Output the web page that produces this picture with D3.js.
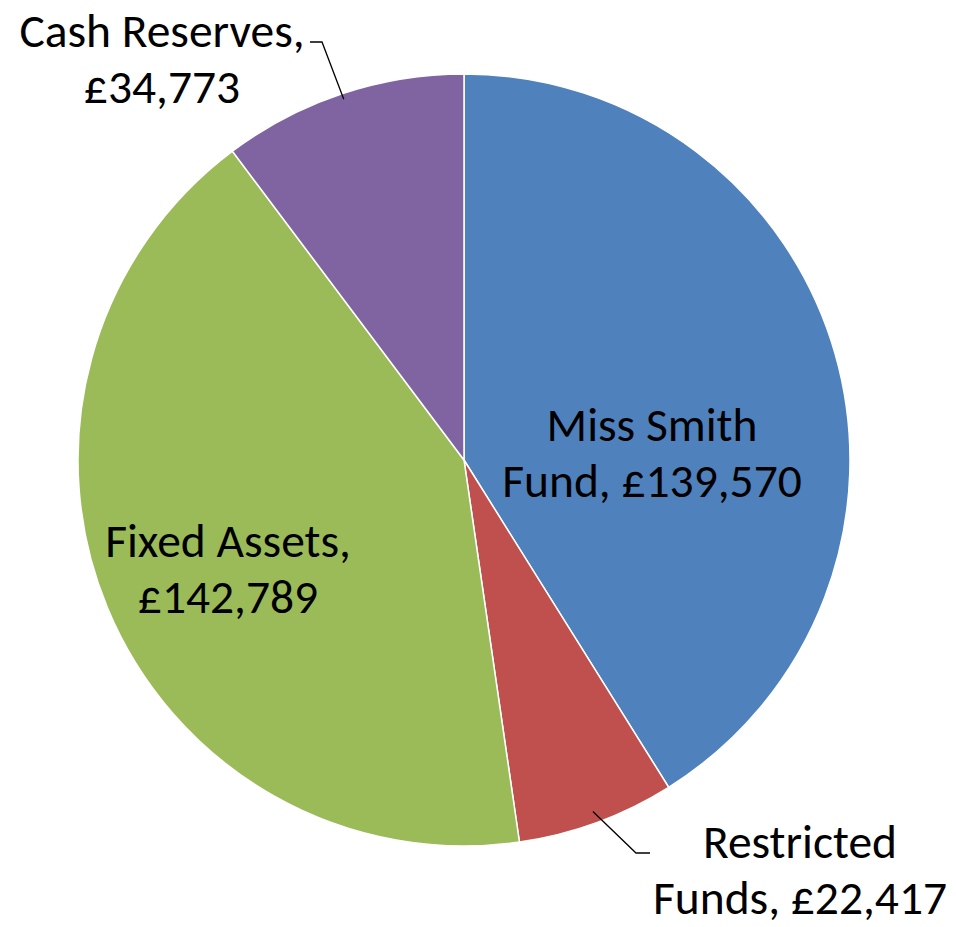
<!DOCTYPE html>
<html>
<head>
<meta charset="utf-8">
<script src="https://cdn.jsdelivr.net/npm/d3@7"></script>
<style>
  html, body { margin: 0; padding: 0; background: #fff; }
  svg text { font-family: Carlito, Lato, "Open Sans", sans-serif; fill: #000; }
</style>
</head>
<body>
<div id="chart"></div>
<script>
(function() {
    'use strict';

    // data
    const categories = ["Miss Smith Fund", "Restricted Funds", "Fixed Assets", "Cash Reserves"];
    const values = [139570, 22417, 142789, 34773];
    const colors = ["#4F81BD", "#C0504D", "#9BBB59", "#8064A2"];

    // label text lines
    const labelLines = [
        ["Miss Smith", "Fund, £139,570"],
        ["Restricted", "Funds, £22,417"],
        ["Fixed Assets,", "£142,789"],
        ["Cash Reserves,", "£34,773"]
    ];

    const width = 956;
    const height = 927;
    const cx = 464, cy = 460, radius = 386;
    const fontSize = 47.5;
    const lineH = 56;

    // where the label blocks sit (centre x, first baseline y), like the excel best fit
    const labelPos = [
        { x: 652, y: 441 },
        { x: 800, y: 858 },
        { x: 228, y: 557 },
        { x: 162, y: 47 }
    ];
    // leader lines for the outside labels
    const leaders = {
        1: { elbow: [636, 853], end: [650, 853], r: 0.97 },
        3: { elbow: [322, 42], end: [310, 42], r: 0.985 }
    };

    const data = categories.map((c, i) => ({ name: c, value: values[i], color: colors[i], lines: labelLines[i] }));

    const svg = d3.select("#chart")
        .append("svg")
        .attr("width", width)
        .attr("height", height);

    const pie = d3.pie().value(d => d.value).sort(null);
    const arc = d3.arc().innerRadius(0).outerRadius(radius);
    const arcs = pie(data);

    const g = svg.append("g").attr("transform", `translate(${cx},${cy})`);

    g.selectAll("path")
        .data(arcs)
        .join("path")
        .attr("d", arc)
        .attr("fill", d => d.data.color)
        .attr("stroke", "#fff")
        .attr("stroke-width", 1.5);

    // leader lines
    arcs.forEach(function(a, i) {
        const l = leaders[i];
        if (!l) return;
        const pt = d3.arc().innerRadius(radius * l.r).outerRadius(radius * l.r).centroid(a);
        const start = [cx + pt[0], cy + pt[1]];
        svg.append("polyline")
            .attr("points", [l.end, l.elbow, start].map(p => p.join(",")).join(" "))
            .attr("fill", "none")
            .attr("stroke", "#000")
            .attr("stroke-width", 1.3);
    });

    // labels
    const labels = svg.append("g")
        .selectAll("text")
        .data(data)
        .join("text")
        .attr("text-anchor", "middle")
        .attr("font-size", fontSize + "px")
        .attr("x", (d, i) => labelPos[i].x)
        .attr("y", (d, i) => labelPos[i].y);

    labels.selectAll("tspan")
        .data((d, i) => d.lines.map(t => ({ t: t, i: i })))
        .join("tspan")
        .attr("x", d => labelPos[d.i].x)
        .attr("dy", (d, j) => j === 0 ? 0 : lineH)
        .text(d => d.t);
})();
</script>
</body>
</html>
